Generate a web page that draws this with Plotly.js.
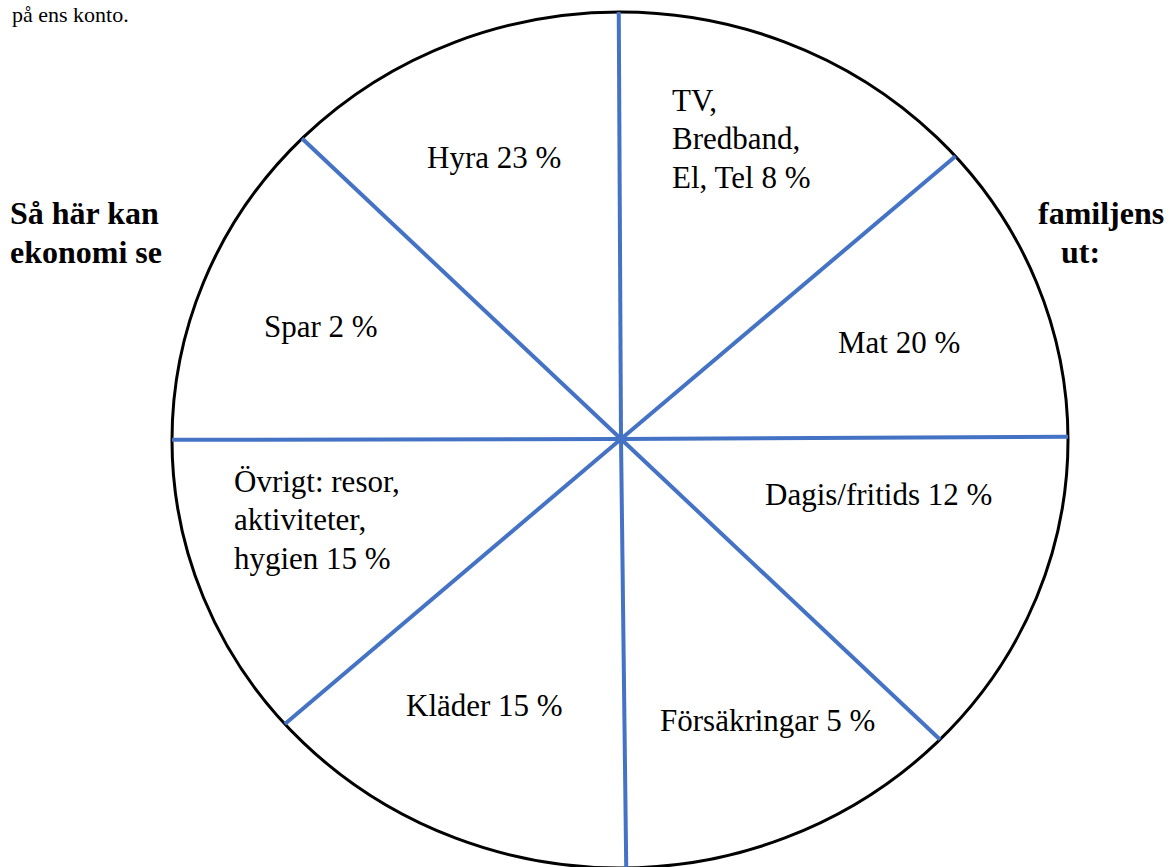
<!DOCTYPE html>
<html>
<head>
<meta charset="utf-8">
<script src="https://cdn.plot.ly/plotly-3.0.1.min.js"></script>
<style>html,body{margin:0;padding:0;background:#fff;}#chart{width:1170px;height:867px;}</style>
</head>
<body>
<div id="chart"></div>
<script>
// ---- data ----
const categories = [["Hyra"], ["TV,", "Bredband,", "El, Tel"], ["Mat"], ["Dagis/fritids"], ["Försäkringar"], ["Kläder"], ["Övrigt: resor,", "aktiviteter,", "hygien"], ["Spar"]];
const shares = [23, 8, 20, 12, 5, 15, 15, 2];
const spokeAngles = [90.3, 40.2, 0.3, -43.3, -89.3, 220.3, 180.1, 136.7]; // degrees, sector boundaries
const headingLeft = ["Så här kan", "ekonomi se"];
const headingRight = ["familjens", "ut:"];
const topLine = "på ens konto.";

// ---- geometry / style ----
const W = 1170, H = 867;
const hub = {x: 621, y: 439};
const ell = {cx: 620, cy: 440, rx: 448, ry: 428};
const labelPos = [
  {x: 425, y: 157}, {x: 670, y: 100}, {x: 836, y: 342}, {x: 763, y: 494},
  {x: 658, y: 720}, {x: 404, y: 705}, {x: 232, y: 481}, {x: 262, y: 326}
];
const lineGap = 38.5;
const serif = "Liberation Serif";

function rimPoint(deg) {
  const a = deg * Math.PI / 180;
  const dx = Math.cos(a), dy = -Math.sin(a);
  const px = hub.x - ell.cx, py = hub.y - ell.cy;
  const A = dx*dx/(ell.rx*ell.rx) + dy*dy/(ell.ry*ell.ry);
  const B = 2*(px*dx/(ell.rx*ell.rx) + py*dy/(ell.ry*ell.ry));
  const C = px*px/(ell.rx*ell.rx) + py*py/(ell.ry*ell.ry) - 1;
  const t = (-B + Math.sqrt(B*B - 4*A*C)) / (2*A);
  return {x: hub.x + t*dx, y: hub.y + t*dy};
}

const sx = [], sy = [];
spokeAngles.forEach(d => {
  const p = rimPoint(d);
  sx.push(hub.x, p.x, null);
  sy.push(hub.y, p.y, null);
});

const annotations = [];
categories.forEach((lines, i) => {
  lines.forEach((ln, j) => {
    const txt = j === lines.length - 1 ? ln + " " + shares[i] + " %" : ln;
    annotations.push({
      x: labelPos[i].x, y: labelPos[i].y + j*lineGap, xref: 'x', yref: 'y',
      text: txt, showarrow: false, xanchor: 'left', yanchor: 'middle',
      font: {family: serif, size: 31, color: '#000'}
    });
  });
});
const bold = {family: serif, size: 32, color: '#000'};
headingLeft.forEach((t, j) => annotations.push({x: 8, y: 213 + j*39, xref:'x', yref:'y', text: '<b>'+t+'</b>', showarrow:false, xanchor:'left', yanchor:'middle', font: bold}));
annotations.push({x: 1166, y: 213, xref:'x', yref:'y', text: '<b>'+headingRight[0]+'</b>', showarrow:false, xanchor:'right', yanchor:'middle', font: bold});
annotations.push({x: 1059, y: 252, xref:'x', yref:'y', text: '<b>'+headingRight[1]+'</b>', showarrow:false, xanchor:'left', yanchor:'middle', font: bold});
annotations.push({x: 10, y: 0, xref:'x', yref:'y', text: topLine, showarrow:false, xanchor:'left', yanchor:'top', font: {family: serif, size: 22, color:'#000'}});

const traces = [{
  type: 'scatter', mode: 'lines', x: sx, y: sy,
  line: {color: '#4472C4', width: 4}, hoverinfo: 'skip', showlegend: false
}];

const layout = {
  width: W, height: H, margin: {l:0, r:0, t:0, b:0},
  paper_bgcolor: '#fff', plot_bgcolor: '#fff', showlegend: false,
  xaxis: {range: [0, W], visible: false, fixedrange: true},
  yaxis: {range: [H, 0], visible: false, fixedrange: true},
  shapes: [{type: 'circle', xref: 'x', yref: 'y',
    x0: ell.cx - ell.rx, x1: ell.cx + ell.rx, y0: ell.cy - ell.ry, y1: ell.cy + ell.ry,
    line: {color: '#000', width: 3}, layer: 'below'}],
  annotations: annotations
};
Plotly.newPlot('chart', traces, layout, {displayModeBar: false, staticPlot: true});
</script>
</body>
</html>
